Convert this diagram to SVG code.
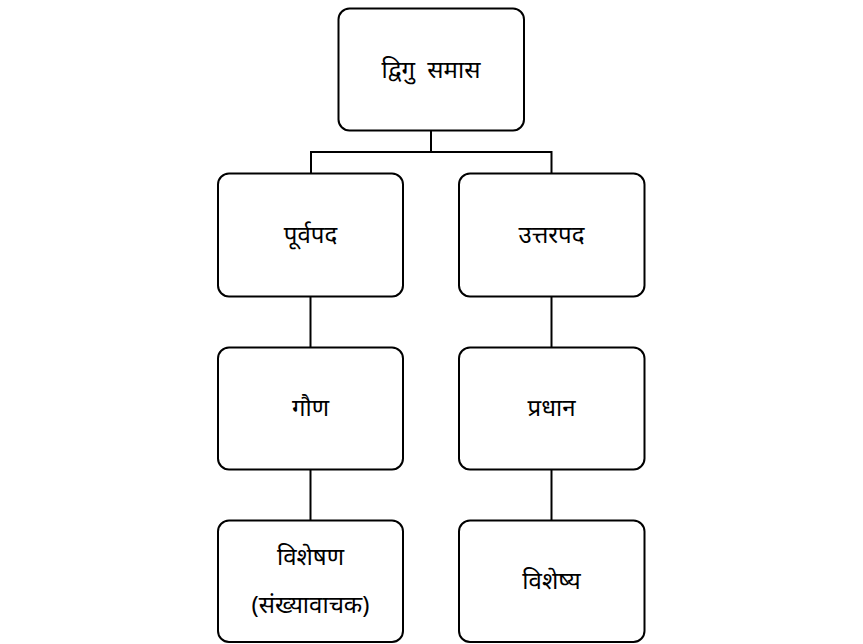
<svg xmlns="http://www.w3.org/2000/svg" width="863" height="644" viewBox="0 0 863 644">
<style>
.box{fill:#ffffff;stroke:#000000;stroke-width:2}
.lbl{font-family:"Noto Sans","DejaVu Sans",sans-serif;font-size:24px;font-weight:normal;fill:#000000;text-anchor:middle;dominant-baseline:central}
.edge{fill:none;stroke:#000000;stroke-width:2}
</style>
<rect width="863" height="644" fill="#ffffff"/>
<g id="connectors">
<path class="edge" d="M431,130 V152 H311 V173"/>
<path class="edge" d="M431,152 H551.5 V173"/>
<path class="edge" d="M310.5,296 V347"/>
<path class="edge" d="M551.5,296 V347"/>
<path class="edge" d="M310.5,469 V520"/>
<path class="edge" d="M551.5,469 V520"/>
</g>
<g id="n-dvigu">
<rect class="box" x="338.5" y="8.5" width="185.5" height="122" rx="11"/>
<text class="lbl" x="431" y="68" word-spacing="6">द्विगु समास</text>
</g>
<g id="n-purvapad">
<rect class="box" x="218" y="173.5" width="185" height="123" rx="11"/>
<text class="lbl" x="310.5" y="233">पूर्वपद</text>
</g>
<g id="n-uttarpad">
<rect class="box" x="459" y="173.5" width="185.5" height="123" rx="11"/>
<text class="lbl" x="551.5" y="233">उत्तरपद</text>
</g>
<g id="n-gaun">
<rect class="box" x="218" y="347.5" width="185" height="122" rx="11"/>
<text class="lbl" x="310.5" y="406">गौण</text>
</g>
<g id="n-pradhan">
<rect class="box" x="459" y="347.5" width="185.5" height="122" rx="11"/>
<text class="lbl" x="551.5" y="406">प्रधान</text>
</g>
<g id="n-visheshan">
<rect class="box" x="218" y="520.5" width="185" height="121.5" rx="11"/>
<text class="lbl" x="310.5" y="555">विशेषण</text>
<text class="lbl" x="310.5" y="603">(संख्यावाचक)</text>
</g>
<g id="n-visheshya">
<rect class="box" x="459" y="520.5" width="185.5" height="121.5" rx="11"/>
<text class="lbl" x="551.5" y="579">विशेष्य</text>
</g>
</svg>
